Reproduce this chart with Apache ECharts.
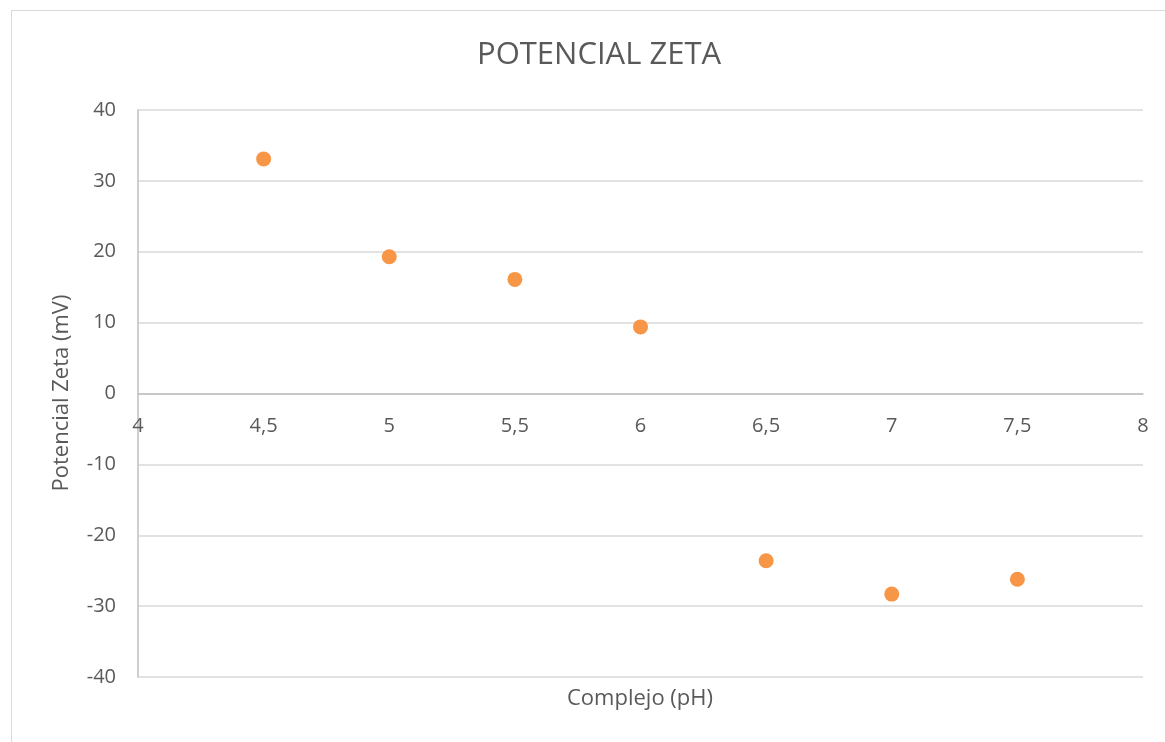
<!DOCTYPE html>
<html>
<head>
<meta charset="utf-8">
<script src="https://cdn.jsdelivr.net/npm/echarts@6/dist/echarts.min.js"></script>
<style>
    html, body { margin: 0; padding: 0; background: #fff; overflow: hidden; }
    #frame { position: absolute; left: 11px; top: 10px; width: 1200px; height: 800px; border: 1px solid #d9d9d9; }
    #chart { position: absolute; left: 0; top: 0; width: 1165px; height: 742px; }
</style>
</head>
<body>
<div id="frame"></div>
<div id="chart"></div>
<script>
// datos
const phValues = [4.5, 5, 5.5, 6, 6.5, 7, 7.5];
const zetaValues = [33.1, 19.3, 16.1, 9.4, -23.6, -28.3, -26.2];

const chart = echarts.init(document.getElementById('chart'));
const textColor = '#595959';
const font = '"Open Sans", sans-serif';
const xLabel = v => String(v).replace('.', ',');

const option = {
    animation: false,
    title: {
        text: 'POTENCIAL ZETA',
        left: 472,
        top: 35,
        textStyle: { color: textColor, fontSize: 31, fontWeight: 'normal', fontFamily: font }
    },
    grid: { left: 138, right: 22, top: 110, bottom: 65 },
    xAxis: [
        {
            // línea del eje en cero
            type: 'value', min: 4, max: 8, interval: 0.5,
            axisLine: { onZero: true, lineStyle: { color: '#bfbfbf', width: 1.5 } },
            axisTick: { show: false },
            splitLine: { show: false },
            axisLabel: { show: false }
        },
        {
            // etiquetas del eje x junto a la línea del cero
            type: 'value', min: 4, max: 8, interval: 0.5,
            position: 'bottom',
            offset: -284,
            axisLine: { show: false },
            axisTick: { show: false },
            splitLine: { show: false },
            axisLabel: { color: textColor, fontSize: 20, fontFamily: font, margin: 23, formatter: xLabel }
        }
    ],
    yAxis: {
        type: 'value',
        min: -40,
        max: 40,
        interval: 10,
        axisLine: { show: true, lineStyle: { color: '#bfbfbf', width: 1.5 } },
        axisTick: { show: false },
        splitLine: { lineStyle: { color: '#d9d9d9', width: 1.5 } },
        axisLabel: { color: textColor, fontSize: 20, fontFamily: font, margin: 22 }
    },
    graphic: [
        {
            type: 'text', x: 640, y: 699,
            style: { text: 'Complejo (pH)', fill: textColor, font: '22px ' + font, align: 'center', verticalAlign: 'middle' }
        },
        {
            type: 'text', x: 62, y: 393, rotation: Math.PI / 2,
            style: { text: 'Potencial Zeta (mV)', fill: textColor, font: '22px ' + font, align: 'center', verticalAlign: 'middle' }
        }
    ],
    series: [{
        type: 'scatter',
        xAxisIndex: 0,
        symbol: 'circle',
        symbolSize: 15,
        itemStyle: { color: '#F79646', opacity: 1 },
        data: phValues.map((x, i) => [x, zetaValues[i]])
    }]
};
chart.setOption(option);
</script>
</body>
</html>
